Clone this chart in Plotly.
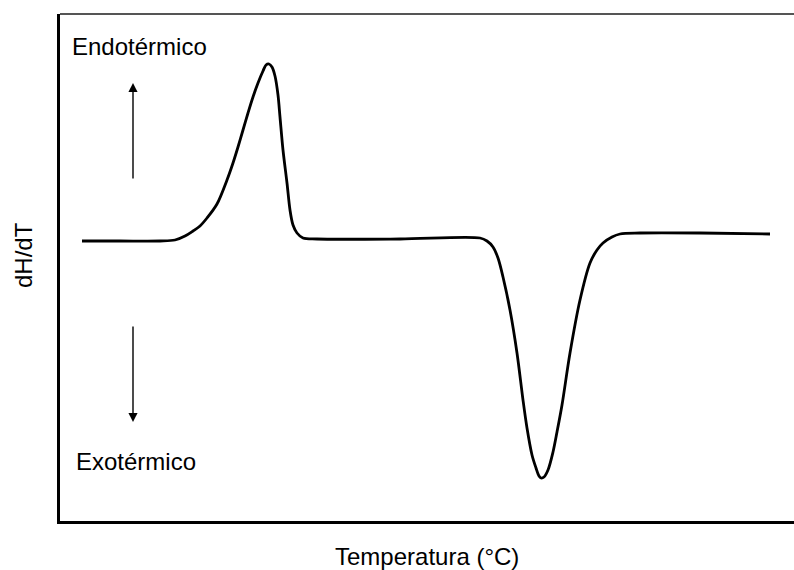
import plotly.graph_objects as go

# DSC thermogram: heat flow (dH/dT) versus temperature, arbitrary units
temperature = [22, 60, 100, 115, 125, 133, 140, 147, 157, 167,
               173, 178, 183, 188, 193, 198, 203, 206, 209, 212,
               215, 218, 220, 223, 227, 230, 233, 237, 243, 257,
               340, 420, 427, 433, 438, 443, 450, 457, 463, 467,
               472, 476, 479, 481, 484, 488, 493, 497, 502, 510,
               520, 530, 537, 543, 552, 560, 580, 640, 710]
heat_flow = [-1, -1, -1, 0, 4, 9, 14, 22, 36, 60,
             77, 93, 110, 127, 143, 157, 169, 175, 176, 173,
             164, 145, 123, 90, 57, 30, 15, 7, 2, 1,
             1, 2, -1, -7, -18, -37, -70, -113, -160, -188,
             -215, -228, -236, -238, -237, -230, -212, -192, -165, -113,
             -60, -23, -10, -3, 3, 6, 7, 7, 6]

x_range = [0, 734]
y_range = [-281, 226]

# direction arrows: (x, tail, tip)
arrow_up = (73, 60, 157)
arrow_down = (73, -85, -182)

FONT = "Liberation Sans, Arial, sans-serif"

fig = go.Figure()
fig.add_trace(go.Scatter(
    x=temperature, y=heat_flow, mode="lines",
    line=dict(color="black", width=2.8, shape="spline", smoothing=0.9),
    hoverinfo="skip", showlegend=False,
))

for ax_x, tail, tip in (arrow_up, arrow_down):
    fig.add_annotation(
        x=ax_x, y=tip, ax=ax_x, ay=tail, xref="x", yref="y",
        axref="x", ayref="y", text="", showarrow=True,
        arrowhead=2, arrowsize=1.3, arrowwidth=1.4, arrowcolor="black",
    )

fig.add_annotation(x=10, y=194, xref="x", yref="y", text="Endotérmico",
                   showarrow=False, xanchor="left", yanchor="middle",
                   font=dict(family=FONT, size=24, color="black"))
fig.add_annotation(x=14, y=-221, xref="x", yref="y", text="Exotérmico",
                   showarrow=False, xanchor="left", yanchor="middle",
                   font=dict(family=FONT, size=24, color="black"))
fig.add_annotation(x=0.5, y=0, xref="paper", yref="paper",
                   text="Temperatura (°C)", showarrow=False,
                   xanchor="center", yanchor="middle", yshift=-35,
                   font=dict(family=FONT, size=24, color="black"))
fig.add_annotation(x=0, y=-15, xref="paper", yref="y", text="dH/dT",
                   showarrow=False, textangle=-90, xanchor="center",
                   yanchor="middle", xshift=-37,
                   font=dict(family=FONT, size=24, color="black"))

# thin top border of the frame
fig.add_shape(type="line", xref="paper", yref="paper", x0=0, x1=1, y0=1, y1=1,
              line=dict(color="#555555", width=2))

fig.update_xaxes(range=x_range, showline=True, linecolor="black", linewidth=3,
                 showgrid=False, zeroline=False, showticklabels=False, ticks="")
fig.update_yaxes(range=y_range, showline=True, linecolor="black", linewidth=3,
                 showgrid=False, zeroline=False, showticklabels=False, ticks="")

fig.update_layout(
    width=794, height=570,
    margin=dict(l=60, r=0, t=14, b=49),
    paper_bgcolor="white", plot_bgcolor="white",
)

fig.write_html("out.html")
